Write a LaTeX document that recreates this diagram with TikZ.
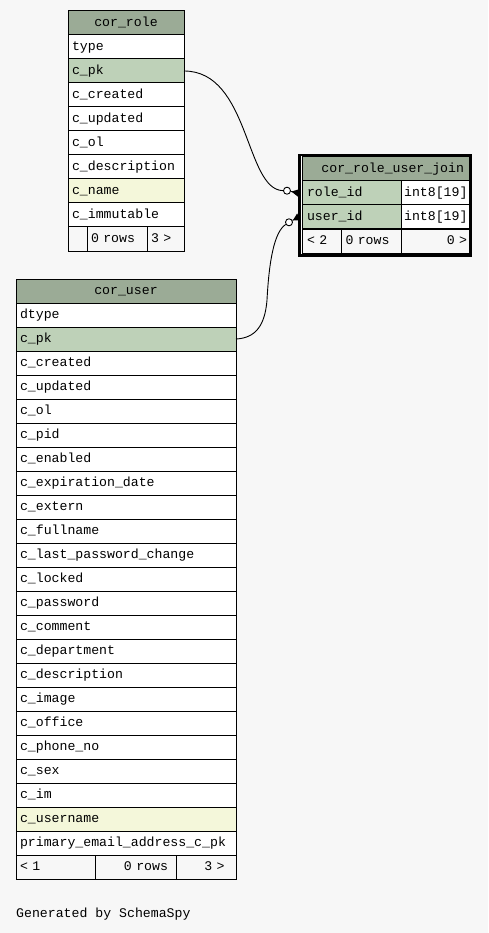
\documentclass[tikz,border=0pt]{standalone}
\usepackage{fontspec}
\newfontfamily\erfont{Liberation Mono}
\usetikzlibrary{calc}
\definecolor{bgcol}{HTML}{F7F7F7}
\definecolor{headcol}{HTML}{9BAB96}
\definecolor{pkcol}{HTML}{BED1B8}
\definecolor{idxcol}{HTML}{F4F7DA}
\tikzset{
  ercellbase/.style={rectangle, draw=black, line width=1pt, inner ysep=0pt, outer sep=0pt,
    minimum height=24pt, anchor=north west, font=\erfont\fontsize{13.2}{15}\selectfont,
    text height=9pt, text depth=2.5pt},
  link/.style={draw=black, line width=0.9pt},
  ring/.style={circle, draw=black, fill=white, line width=0.9pt, inner sep=0pt, minimum size=7pt},
  focusframe/.style={draw=black, line width=2.5pt, fill=white},
  credit/.style={anchor=base west, inner sep=0pt, font=\erfont\fontsize{13.2}{15}\selectfont}
}
\newcommand{\ercell}[8]{%
  \pgfmathsetmacro{\ertw}{#4-2*#7}%
  \node[ercellbase, fill=#5, inner xsep=#7pt, text width=\ertw pt, align=#6] (#1) at (#2,#3) {#8};}
\begin{document}
\begin{tikzpicture}[x=1pt,y=-1pt]
\fill[bgcol] (0,0) rectangle (488,933);
\useasboundingbox (0,0) rectangle (488,933);

% ---- cor_role ----
\ercell{rh}{68}{11}{116}{headcol}{center}{4}{cor\_role}
\foreach \t/\f [count=\i from 0] in {type/white, c\_pk/pkcol, c\_created/white, c\_updated/white, c\_ol/white, c\_description/white, c\_name/idxcol, c\_immutable/white}{
  \pgfmathsetmacro{\yy}{35+24*\i}
  \ercell{r\i}{68}{\yy}{116}{\f}{left}{4}{\t}
}
\ercell{rf1}{68}{227}{19}{bgcol}{left}{4}{}
\ercell{rf2}{87}{227}{60}{bgcol}{left}{4}{0 rows}
\ercell{rf3}{147}{227}{37}{bgcol}{left}{4}{3 >}

% ---- cor_user ----
\ercell{uh}{16}{279}{220}{headcol}{center}{4}{cor\_user}
\foreach \t/\f [count=\i from 0] in {dtype/white, c\_pk/pkcol, c\_created/white, c\_updated/white, c\_ol/white, c\_pid/white, c\_enabled/white, c\_expiration\_date/white, c\_extern/white, c\_fullname/white, c\_last\_password\_change/white, c\_locked/white, c\_password/white, c\_comment/white, c\_department/white, c\_description/white, c\_image/white, c\_office/white, c\_phone\_no/white, c\_sex/white, c\_im/white, c\_username/idxcol, primary\_email\_address\_c\_pk/white}{
  \pgfmathsetmacro{\yy}{303+24*\i}
  \ercell{u\i}{16}{\yy}{220}{\f}{left}{4}{\t}
}
\ercell{uf1}{16}{855}{79}{bgcol}{left}{4}{<\ 1}
\ercell{uf2}{95}{855}{81}{bgcol}{right}{8}{0 rows}
\ercell{uf3}{176}{855}{60}{bgcol}{right}{11.5}{3 >}

% ---- cor_role_user_join ----
\draw[focusframe] (299.5,155) rectangle (471,255.5);
\ercell{jh}{302}{157}{167}{headcol}{right}{5}{cor\_role\_user\_join}
\ercell{jr}{302}{181}{99}{pkcol}{left}{5}{role\_id}
\ercell{jrt}{401}{181}{68}{white}{right}{1.5}{int8[19]}
\ercell{ju}{302}{205}{99}{pkcol}{left}{5}{user\_id}
\ercell{jut}{401}{205}{68}{white}{right}{1.5}{int8[19]}
\ercell{jf1}{302}{229}{39}{bgcol}{left}{5}{<\ 2}
\ercell{jf2}{341}{229}{60}{bgcol}{left}{4.5}{0 rows}
\ercell{jf3}{401}{229}{68}{bgcol}{right}{2}{0 >}

% ---- connectors ----
\node[ring] (c1) at (287,190.7) {};
\node[ring] (c2) at (289,222.3) {};
\coordinate (e1) at ($(jr.west)+(-3,0)$);
\coordinate (e2) at ($(ju.west)+(-3,0)$);
\draw[link] (r1.east) .. controls (250,71) and (245,190) .. (c1);
\draw[link] (u1.east) .. controls (256,338) and (265,325) .. (267,300) .. controls (269,262) and (274,232) .. (c2);
\draw[link] (c1) -- (e1);
\draw[link] (c2) -- (e2);
\fill[black] ($(c1)!4.5pt!(e1)$) -- ($(e1)!4pt!90:(c1)$) -- ($(e1)!4pt!-90:(c1)$) -- cycle;
\fill[black] ($(c2)!4.5pt!(e2)$) -- ($(e2)!4pt!90:(c2)$) -- ($(e2)!4pt!-90:(c2)$) -- cycle;

% ---- credit ----
\node[credit] (gen) at (16,917) {Generated by SchemaSpy};
\end{tikzpicture}
\end{document}
